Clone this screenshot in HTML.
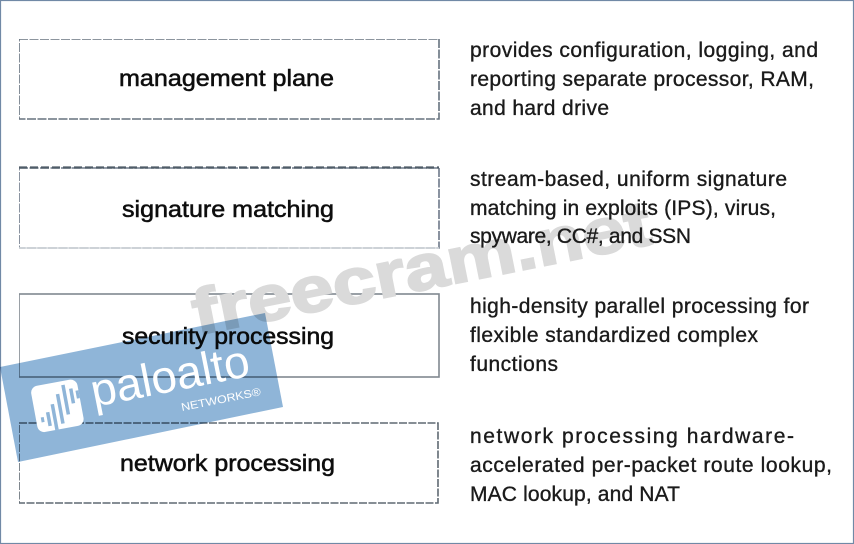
<!DOCTYPE html>
<html>
<head>
<meta charset="utf-8">
<style>
html,body{margin:0;padding:0;background:#fff;width:854px;height:544px;overflow:hidden}
svg{display:block}
text{font-family:"Liberation Sans",sans-serif}
.d{font-size:21px;fill:#1a1a1a;stroke:#1a1a1a;stroke-width:.35}
.b{font-size:23px;fill:#111;stroke:#111;stroke-width:.55}
</style>
</head>
<body>
<svg width="854" height="544" viewBox="0 0 854 544" xmlns="http://www.w3.org/2000/svg">
<defs><filter id="s" x="0" y="0" width="100%" height="100%"><feGaussianBlur stdDeviation="0.35"/></filter></defs>
<rect x="0" y="0" width="854" height="544" fill="#fff"/>
<g filter="url(#s)">
<!-- boxes -->
<g fill="#fff" stroke-width="1.6">
<rect x="19" y="39" width="420" height="80" stroke="#66727f" stroke-dasharray="9 1.5"/>
<rect x="19" y="168" width="420" height="80" stroke="#6d7888" stroke-dasharray="9 1.5"/>
<rect x="19" y="294" width="420" height="83" stroke="#808890"/>
<rect x="19" y="423" width="419" height="80" stroke="#5f6972" stroke-dasharray="8 1.5"/>
</g>
<line x1="19" y1="167.5" x2="439" y2="167.5" stroke="#4f5b68" stroke-width="2.2" stroke-dasharray="8 3"/>
<line x1="19" y1="248" x2="439" y2="248" stroke="#d5dade" stroke-width="1.6"/>

<!-- freecram watermark -->
<text x="0" y="0" transform="translate(197,335) rotate(-11.3)" font-size="64" font-weight="bold" fill="#dadada" stroke="#dadada" stroke-width="2" textLength="466" lengthAdjust="spacingAndGlyphs">freecram.net</text>

<!-- box labels -->
<text class="b" x="119" y="86" textLength="215" lengthAdjust="spacingAndGlyphs">management plane</text>
<text class="b" x="122" y="217" textLength="212" lengthAdjust="spacingAndGlyphs">signature matching</text>
<text class="b" x="122" y="344" textLength="212" lengthAdjust="spacingAndGlyphs">security processing</text>
<text class="b" x="120" y="471" textLength="215" lengthAdjust="spacingAndGlyphs">network processing</text>

<!-- descriptions -->
<text class="d" x="470" y="57" textLength="348">provides configuration, logging, and</text>
<text class="d" x="470" y="86" textLength="344">reporting separate processor, RAM,</text>
<text class="d" x="470" y="115" textLength="139">and hard drive</text>
<text class="d" x="470" y="186" textLength="317">stream-based, uniform signature</text>
<text class="d" x="470" y="215" textLength="306">matching in exploits (IPS), virus,</text>
<text class="d" x="470" y="243" textLength="221">spyware, CC#, and SSN</text>
<text class="d" x="470" y="313" textLength="339">high-density parallel processing for</text>
<text class="d" x="470" y="342" textLength="288">flexible standardized complex</text>
<text class="d" x="470" y="371" textLength="88">functions</text>
<text class="d" x="470" y="443" textLength="324">network processing hardware-</text>
<text class="d" x="470" y="472" textLength="362">accelerated per-packet route lookup,</text>
<text class="d" x="470" y="501" textLength="210">MAC lookup, and NAT</text>
</g>
<rect x="0.5" y="0.5" width="853" height="543" fill="none" stroke="#7189a6" stroke-width="1.2"/>

<!-- banner -->
<polygon points="0,367 265,313 283,407 18,462" fill="#8fb5d8" style="mix-blend-mode:multiply"/>
<g filter="url(#s)">
<g transform="translate(30,387) rotate(-10.5)">
<rect x="0" y="0" width="47" height="47" rx="7" fill="#fff"/>
<g fill="#8fb5d8">
<rect x="5" y="32" width="3" height="5"/>
<rect x="11" y="28" width="3.5" height="14"/>
<rect x="17" y="21" width="3.5" height="26"/>
<rect x="24" y="12" width="3.5" height="30"/>
<rect x="31" y="4" width="3.5" height="30"/>
<rect x="38" y="9" width="3.5" height="15"/>
<rect x="44" y="12" width="3" height="8"/>
</g>
</g>
<text x="0" y="0" transform="translate(94,407) rotate(-11.3)" font-size="46" fill="#fff" textLength="161" lengthAdjust="spacingAndGlyphs">paloalto</text>
<text x="0" y="0" transform="translate(182,411) rotate(-11.3)" font-size="11" fill="#fff" textLength="81" lengthAdjust="spacingAndGlyphs">NETWORKS®</text>
</g>
</svg>
</body>
</html>
